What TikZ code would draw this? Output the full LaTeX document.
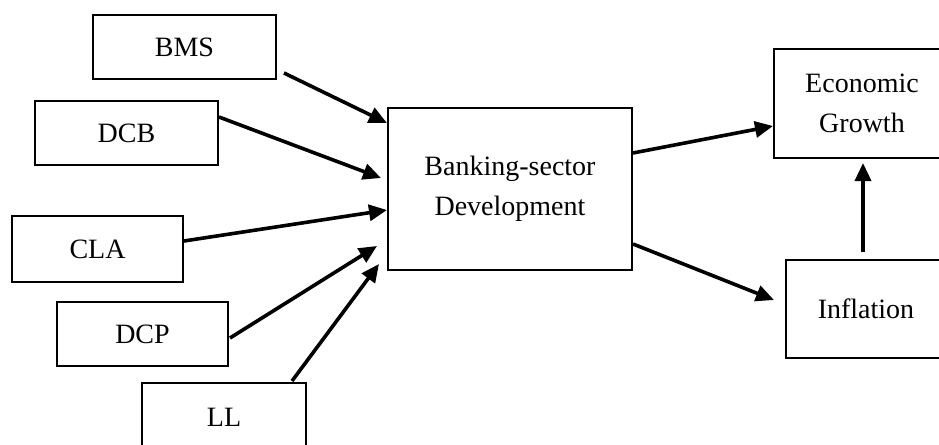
\documentclass[tikz,border=0pt]{standalone}
\usepackage{fontspec}
\setmainfont{Liberation Serif}
\usetikzlibrary{arrows.meta}

\begin{document}
\begin{tikzpicture}[x=0.5pt, y=-0.5pt,
		varbox/.style={draw=black, line width=1pt, rectangle, inner sep=0pt,
			font=\fontsize{14}{20}\selectfont, align=center},
		link/.style={line width=1.8pt, -{Triangle[length=9pt, width=8pt]}}]
		\useasboundingbox (0,0) rectangle (939,445);

		% --- Indicator boxes ---
		\node[varbox, minimum width=91.5pt, minimum height=32pt] (bms) at (184.5, 47) {BMS};
		\node[varbox, minimum width=91.5pt, minimum height=32pt] (dcb) at (126.5, 133) {DCB};
		\node[varbox, minimum width=85.5pt, minimum height=33pt] (cla) at (97.5, 249) {CLA};
		\node[varbox, minimum width=85.5pt, minimum height=32pt] (dcp) at (142.5, 334) {DCP};
		\node[varbox, minimum width=82pt, minimum height=34pt] (ll) at (224, 417) {LL};

		% --- Central box ---
		\node[varbox, minimum width=122pt, minimum height=81pt] (bsd) at (510, 189)
			{Banking-sector\\Development};

		% --- Outcome boxes (right edge runs off the page) ---
		\node[varbox, minimum width=88pt, minimum height=54.5pt] (growth) at (862, 103.5)
			{Economic\\Growth};
		\node[varbox, minimum width=80pt, minimum height=49pt] (infl) at (866, 309) {Inflation};

		% --- Indicators into banking-sector development ---
		\draw[link] ([shift={(7,-7)}]bms.south east) -- ([shift={(0,16)}]bsd.north west);
		\draw[link] ([shift={(0,-16)}]dcb.east) -- ([shift={(-6,-11)}]bsd.west);
		\draw[link] ([shift={(0,-8)}]cla.east) -- ([shift={(0,21)}]bsd.west);
		\draw[link] ([shift={(1,4)}]dcp.east) -- ([shift={(-10,-25)}]bsd.south west);
		\draw[link] ([shift={(-15,-1)}]ll.north east) -- ([shift={(-8,-7)}]bsd.south west);

		% --- Development to outcomes ---
		\draw[link] ([shift={(0,-36)}]bsd.east) -- ([shift={(0,22.5)}]growth.west);
		\draw[link] ([shift={(0,55)}]bsd.east) -- ([shift={(-11,-9)}]infl.west);
		\draw[link] ([shift={(-3,-7)}]infl.north) -- ([shift={(1,4)}]growth.south);
	\end{tikzpicture}
\end{document}
